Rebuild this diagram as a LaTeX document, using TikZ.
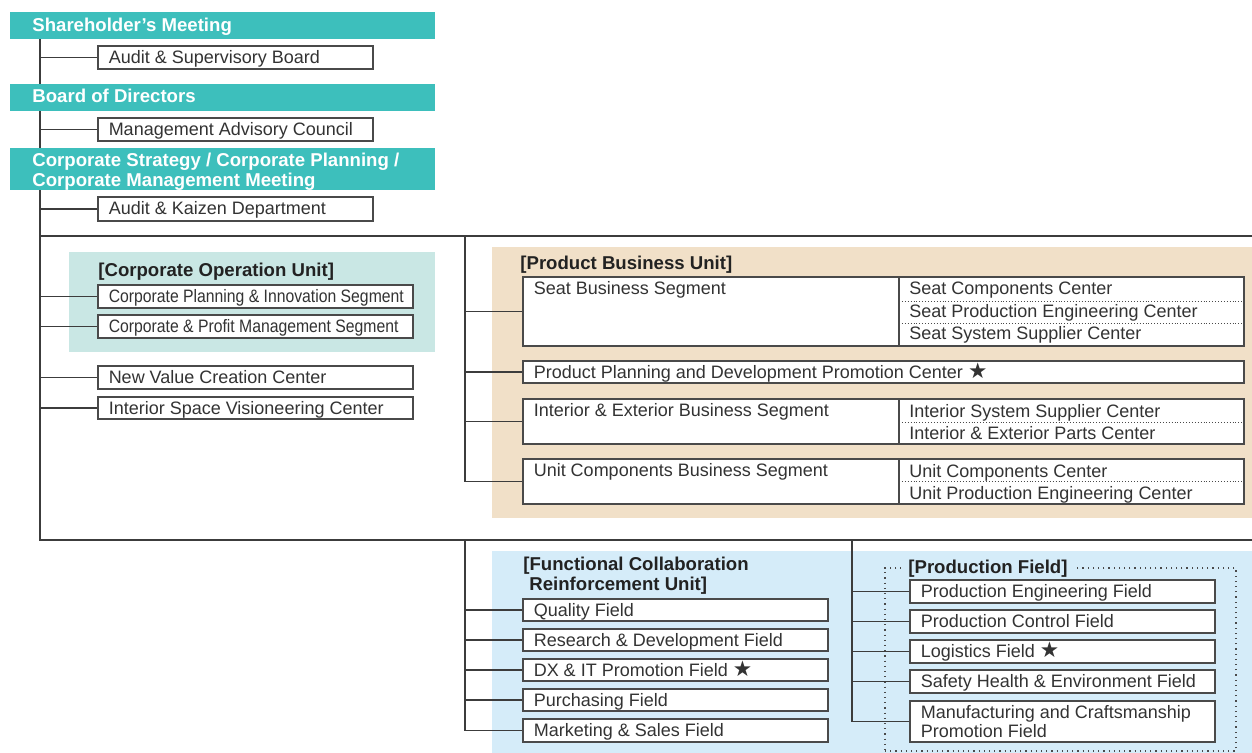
\documentclass[tikz,border=0pt]{standalone}
\usepackage{fontspec}
\setmainfont{Liberation Sans}
\newfontfamily\symfont{DejaVu Sans}
\usepackage{graphicx}
\usetikzlibrary{fit,calc}

\definecolor{orgteal}{HTML}{3DBFBC}
\definecolor{cobg}{HTML}{C9E7E4}
\definecolor{pbbg}{HTML}{F1E0C8}
\definecolor{fcbg}{HTML}{D5ECF9}
\definecolor{linegray}{HTML}{3C3C3C}
\definecolor{boxgray}{HTML}{4A4A4A}
\definecolor{txtgray}{HTML}{333333}
\definecolor{titlegray}{HTML}{222222}

\newcommand\regfont{\fontsize{9}{10.8}\selectfont}
\newcommand\barfont{\fontsize{9.3}{11}\selectfont\bfseries}
\newcommand\narrowtext[1]{\scalebox{0.875}[1]{#1}}
\newcommand\twolines[3]{\vtop{\baselineskip=#3\relax\hbox{#1}\hbox{#2}}}
\newcommand\ostar{{\symfont\fontsize{10.8}{12}\selectfont ★}}

\tikzset{
  conn/.style={draw=linegray, line width=0.8pt},
  obox/.style={draw=boxgray, line width=0.65pt, fill=white, inner sep=0pt},
  otext/.style={anchor=base west, inner sep=0pt, text=txtgray, font=\regfont},
  bar/.style={fill=orgteal, inner sep=0pt},
  bartext/.style={anchor=base west, inner sep=0pt, text=white, font=\barfont},
  unittitle/.style={anchor=base west, inner sep=0pt, text=titlegray, font=\barfont},
  unitbg/.style={inner sep=0pt, draw=none},
  divider/.style={draw=boxgray, line width=0.65pt},
  rowsep/.style={draw=boxgray, line width=0.45pt, densely dotted},
  fieldframe/.style={draw=boxgray, line width=0.6pt, dotted},
}

% box from corner (x1,y1) to (x2,y2) with its label
\newcommand\orgbox[6]{%
  \node[obox, fit={(#2,#3)(#4,#5)}] (#1) {};
  \node[otext] (#1-t) at ($(#1.north west)+(11,18)$) {#6};
}

\begin{document}
\begin{tikzpicture}[x=0.5pt,y=-0.5pt]
\useasboundingbox (0,0) rectangle (1252,753);

% unit backgrounds
\node[unitbg, fill=cobg, fit={(69,252)(435,352)}] (cou) {};
\node[unitbg, fill=pbbg, fit={(492,247)(1252,518)}] (pbu) {};
\node[unitbg, fill=fcbg, fit={(492,551)(1252,753)}] (fcu) {};
\node[unitbg, fieldframe, fit={(885,568)(1236,751)}] (pf) {};

% governing bodies
\node[bar, fit={(10,12)(435,39)}] (sm) {};
\node[bartext] (sm-t) at (32,32) {Shareholder’s Meeting};
\node[bar, fit={(10,84)(435,111)}] (bod) {};
\node[bartext] (bod-t) at (32,103) {Board of Directors};
\node[bar, fit={(10,148)(435,190)}] (csp) {};
\node[bartext] (csp-t) at (32,167) {\twolines{Corporate Strategy / Corporate Planning /}{Corporate Management Meeting}{8.5pt}};

\orgbox{asb}{98}{46}{373}{69}{Audit \& Supervisory Board}
\orgbox{mac}{98}{118}{373}{141}{Management Advisory Council}
\orgbox{akd}{98}{197}{373}{221}{Audit \& Kaizen Department}

% corporate operation unit
\node[unittitle] (cou-t) at (98,277) {[Corporate Operation Unit]};
\orgbox{cpi}{98}{285}{413}{308}{\narrowtext{Corporate Planning \& Innovation Segment}}
\orgbox{cpm}{98}{315}{413}{338}{\narrowtext{Corporate \& Profit Management Segment}}
\orgbox{nvc}{98}{366}{413}{389}{New Value Creation Center}
\orgbox{isv}{98}{397}{413}{419}{Interior Space Visioneering Center}

% product business unit
\node[unittitle] (pbu-t) at (520,270) {[Product Business Unit]};
\orgbox{seat}{523}{277}{1244}{346}{Seat Business Segment}
\draw[divider] (899,277) -- (899,346);
\draw[rowsep] (899,301) -- (1244,301);
\draw[rowsep] (899,323) -- (1244,323);
\node[otext] (scc) at (909,295) {Seat Components Center};
\node[otext] (spe) at (909,318) {Seat Production Engineering Center};
\node[otext] (sss) at (909,340) {Seat System Supplier Center};

\orgbox{ppd}{523}{361}{1244}{383}{Product Planning and Development Promotion Center \ostar}

\orgbox{iex}{523}{399}{1244}{444}{Interior \& Exterior Business Segment}
\draw[divider] (899,399) -- (899,444);
\draw[rowsep] (899,422) -- (1244,422);
\node[otext] (iss) at (909,417) {Interior System Supplier Center};
\node[otext] (iep) at (909,439) {Interior \& Exterior Parts Center};

\orgbox{ucb}{523}{459}{1244}{504}{Unit Components Business Segment}
\draw[divider] (899,459) -- (899,504);
\draw[rowsep] (899,481) -- (1244,481);
\node[otext] (ucc) at (909,477) {Unit Components Center};
\node[otext] (upe) at (909,499) {Unit Production Engineering Center};

% functional collaboration reinforcement unit
\node[unittitle] (fcu-t) at (523,570) {\twolines{[Functional Collaboration}{\hspace*{3pt}Reinforcement Unit]}{10pt}};
\orgbox{qf}{523}{599}{828}{621}{Quality Field}
\orgbox{rd}{523}{629}{828}{651}{Research \& Development Field}
\orgbox{dx}{523}{659}{828}{681}{DX \& IT Promotion Field \ostar}
\orgbox{pu}{523}{689}{828}{711}{Purchasing Field}
\orgbox{ms}{523}{719}{828}{742}{Marketing \& Sales Field}

% production field
\node[unittitle, fill=fcbg, inner xsep=3.5pt] (pf-t) at (901,573) {[Production Field]};
\orgbox{pe}{910}{580}{1215}{603}{Production Engineering Field}
\orgbox{pc}{910}{610}{1215}{633}{Production Control Field}
\orgbox{lg}{910}{640}{1215}{663}{Logistics Field \ostar}
\orgbox{she}{910}{670}{1215}{693}{Safety Health \& Environment Field}
\orgbox{mcp}{910}{701}{1215}{742}{\twolines{Manufacturing and Craftsmanship}{Promotion Field}{9.5pt}}

% reporting lines
\coordinate (spine-bot) at (40,540);
\coordinate (upper-l) at (40,236);
\coordinate (upper-r) at (1252,236);
\coordinate (lower-r) at (1252,540);
\coordinate (pbu-top) at (465,236);
\coordinate (fcu-top) at (465,540);
\coordinate (pf-top) at (852,540);

\draw[conn] (sm.south -| spine-bot) -- (bod.north -| spine-bot);
\draw[conn] (bod.south -| spine-bot) -- (csp.north -| spine-bot);
\draw[conn] (csp.south -| spine-bot) -- (spine-bot) -- (lower-r);
\draw[conn] (upper-l) -- (upper-r);
\foreach \n in {asb,mac,akd,cpi,cpm,nvc,isv}
  \draw[conn] (\n.west -| spine-bot) -- (\n.west);

\draw[conn] (pbu-top) -- (pbu-top |- ucb.west) -- (ucb.west);
\foreach \n in {seat,ppd,iex}
  \draw[conn] (\n.west -| pbu-top) -- (\n.west);

\draw[conn] (fcu-top) -- (fcu-top |- ms.west) -- (ms.west);
\foreach \n in {qf,rd,dx,pu}
  \draw[conn] (\n.west -| fcu-top) -- (\n.west);

\draw[conn] (pf-top) -- (pf-top |- mcp.west) -- (mcp.west);
\foreach \n in {pe,pc,lg,she}
  \draw[conn] (\n.west -| pf-top) -- (\n.west);
\end{tikzpicture}
\end{document}
